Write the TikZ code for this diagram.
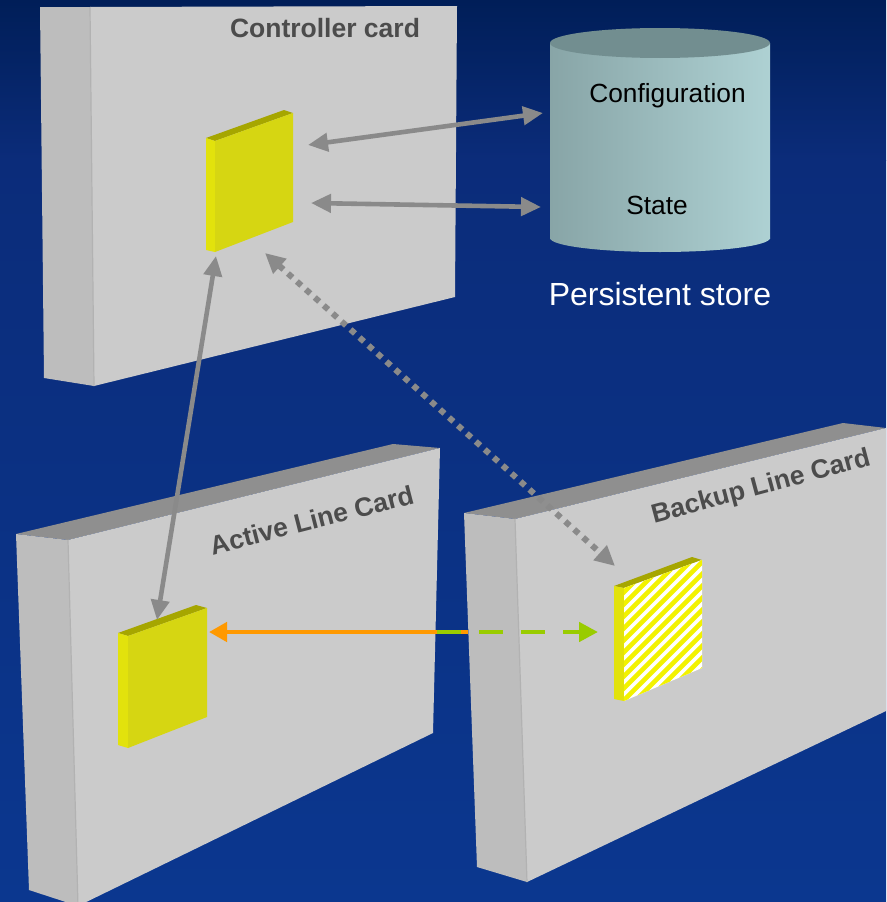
\documentclass[tikz,border=0pt]{standalone}
\usepackage{fontspec}
\setmainfont{Liberation Sans}
\usetikzlibrary{arrows.meta}
\definecolor{bgtop}{HTML}{001E58}
\definecolor{bgmid}{HTML}{0B2C7A}
\definecolor{bgbot}{HTML}{0B378F}
\definecolor{cardfront}{HTML}{CBCBCB}
\definecolor{cardside}{HTML}{BDBDBD}
\definecolor{cardtop}{HTML}{8F8F8F}
\definecolor{cardedge}{HTML}{B2B2B2}
\definecolor{chipfront}{HTML}{D6D612}
\definecolor{chipside}{HTML}{E2E20C}
\definecolor{chiptop}{HTML}{A6A600}
\definecolor{stripey}{HTML}{F2F200}
\definecolor{cylL}{HTML}{88A5A7}
\definecolor{cylR}{HTML}{AED1D3}
\definecolor{cyltop}{HTML}{728E90}
\definecolor{arrgray}{HTML}{8A8A8A}
\definecolor{arrorange}{HTML}{FF9900}
\definecolor{arrgreen}{HTML}{99CC00}
\definecolor{titlegray}{HTML}{4C4C4C}
\tikzset{
  grayarr/.style={draw=arrgray,line width=4.6pt,{Triangle[length=20pt,width=18pt]}-{Triangle[length=20pt,width=18pt]}},
  dotarr/.style={draw=arrgray,line width=6pt,dash pattern=on 6pt off 6pt,{Triangle[length=20pt,width=19pt]}-{Triangle[length=20pt,width=19pt]}},
  orangearr/.style={draw=arrorange,line width=4.6pt,-{Triangle[length=18pt,width=19pt]}},
  greenarr/.style={draw=arrgreen,line width=4.6pt,dash pattern=on 24pt off 18pt,-{Triangle[length=19pt,width=19pt]}},
  titletext/.style={font=\bfseries\fontsize{26.5}{30}\selectfont,text=titlegray,inner sep=0pt,anchor=base},
  cyltext/.style={font=\fontsize{26.3}{30}\selectfont,text=black,inner sep=0pt,anchor=base},
  edgeline/.style={draw=cardedge,line width=1.2pt},
  stripeline/.style={draw=stripey,line width=4.6pt}
}
\begin{document}
\begin{tikzpicture}[x=1pt,y=-1pt]
\useasboundingbox (0,0) rectangle (886,902);
% background
\shade[top color=bgtop,bottom color=bgmid] (0,0) rectangle (886,160);
\shade[top color=bgmid,bottom color=bgbot] (0,160) rectangle (886,902);

% ---------- Controller card ----------
\fill[cardside] (40,7) -- (90,7) -- (94,386) -- (44,378) -- cycle;
\fill[cardfront] (90,7) -- (457,6) -- (455,297) -- (94,386) -- cycle;
\draw[edgeline] (90,7) -- (94,386);
\node[titletext] (ctitle) at (325,37) {Controller card};
% controller chip
\fill[chiptop] (206,138) -- (284,110) -- (293,113) -- (215,141) -- cycle;
\fill[chipside] (206,138) -- (215,141) -- (215,252) -- (206,250) -- cycle;
\fill[chipfront] (215,141) -- (293,113) -- (293,222) -- (215,252) -- cycle;

% ---------- Persistent store ----------
\shade[left color=cylL,right color=cylR] (550,43) rectangle (770,238);
\shade[left color=cylL,right color=cylR] (660,238) ellipse [x radius=110pt,y radius=14pt];
\fill[cyltop] (660,43) ellipse [x radius=110pt,y radius=15pt];
\node[cyltext] (conf) at (667.5,102) {Configuration};
\node[cyltext] (state) at (657,214) {State};
\node[font=\fontsize{32}{36}\selectfont,text=white,inner sep=0pt,anchor=base] (pstore) at (660,305) {Persistent store};

% ---------- Active line card ----------
\fill[cardtop] (16,534) -- (393,444) -- (440,448) -- (68,540) -- cycle;
\fill[cardside] (16,534) -- (68,540) -- (78,906) -- (29,890) -- cycle;
\fill[cardfront] (68,540) -- (440,448) -- (433,733) -- (78,906) -- cycle;
\draw[edgeline] (68,540) -- (78,906);
\node[titletext,rotate=14.4] (atitle) at (314,529) {Active Line Card};
% active chip
\fill[chiptop] (118,633) -- (196,605) -- (207,608) -- (128,636) -- cycle;
\fill[chipside] (118,633) -- (128,636) -- (128,748) -- (118,745) -- cycle;
\fill[chipfront] (128,636) -- (207,608) -- (207,717) -- (128,748) -- cycle;

% ---------- Backup line card ----------
\fill[cardtop] (464,513) -- (843,423) -- (886,428) -- (515,519) -- cycle;
\fill[cardside] (464,513) -- (515,519) -- (527,882) -- (477,867) -- cycle;
\fill[cardfront] (515,519) -- (886,428) -- (886,711) -- (527,882) -- cycle;
\draw[edgeline] (515,519) -- (527,882);
\node[titletext,rotate=15] (btitle) at (763,494) {Backup Line Card};
% backup chip (striped)
\fill[chiptop] (614,586) -- (692,557) -- (702,560) -- (624,588) -- cycle;
\fill[chipside] (614,586) -- (624,588) -- (624,701) -- (614,699) -- cycle;
\begin{scope}
  \clip (624,588) -- (702,560) -- (702,668) -- (624,701) -- cycle;
  \fill[white] (600,540) rectangle (720,720);
  \foreach \k in {0,...,21} {
    \draw[stripeline] (600,{556+12*\k}) -- ++(140,-140);
  }
\end{scope}

% ---------- connector end points ----------
\coordinate (ctlA) at (308,145);
\coordinate (cfgA) at (543,113);
\coordinate (ctlB) at (311,203);
\coordinate (stB) at (541,207);
\coordinate (ctlC) at (216,256);
\coordinate (actC) at (157,620);
\coordinate (ctlD) at (265,253);
\coordinate (bakD) at (615,566);
\coordinate (actO) at (209,632);
\coordinate (midO) at (468,632);
\coordinate (midG) at (437,632);
\coordinate (bakG) at (598,632);

% ---------- connectors ----------
\draw[grayarr] (ctlA) -- (cfgA);
\draw[grayarr] (ctlB) -- (stB);
\draw[grayarr] (ctlC) -- (actC);
\draw[dotarr] (ctlD) -- (bakD);
\draw[orangearr] (midO) -- (actO);
\draw[greenarr] (midG) -- (bakG);
\end{tikzpicture}
\end{document}
